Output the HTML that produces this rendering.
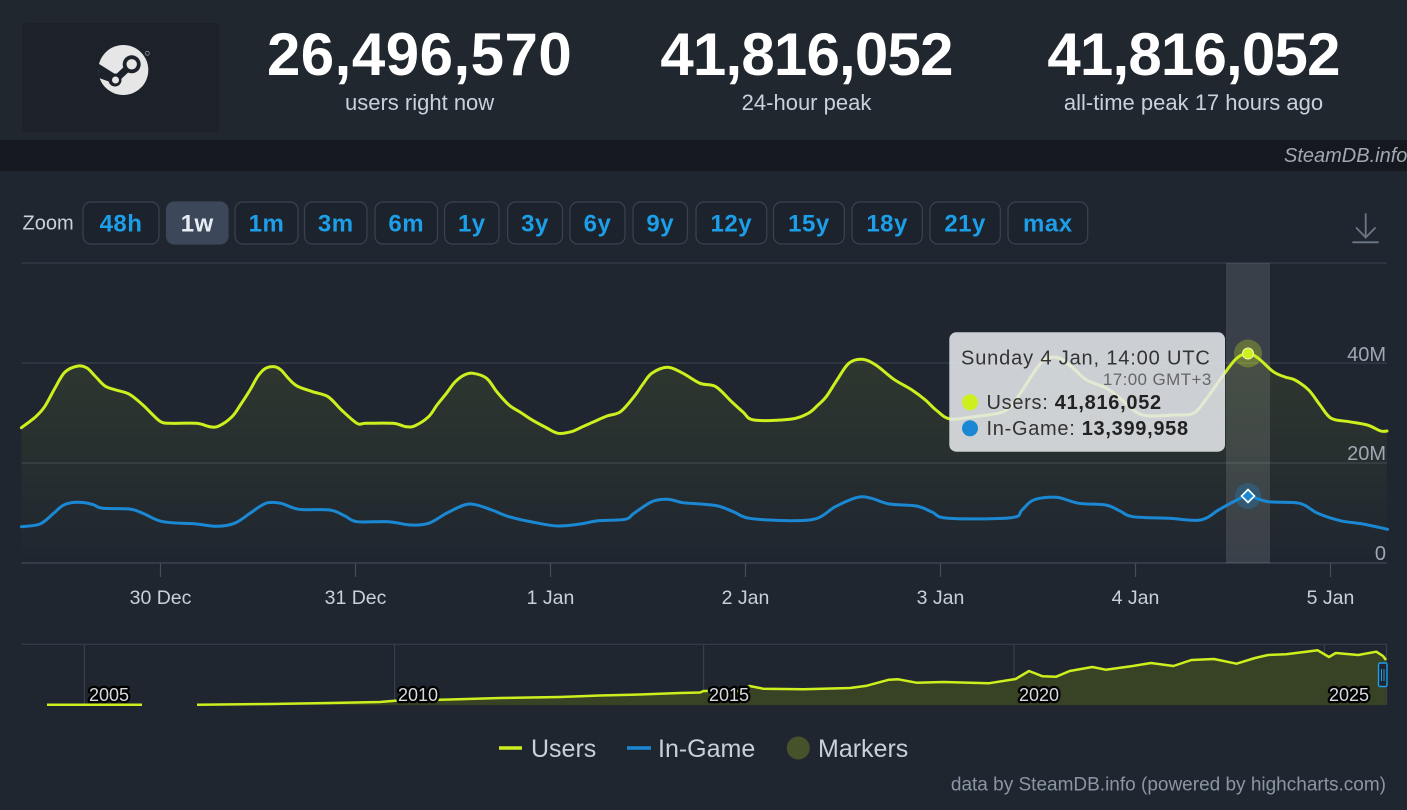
<!DOCTYPE html>
<html><head><meta charset="utf-8">
<style>
html,body{margin:0;padding:0;background:#1f2630;}
body{width:1407px;height:810px;overflow:hidden;}
svg{display:block;font-family:"Liberation Sans",sans-serif;}
</style></head>
<body>
<svg id="chart" width="1407" height="810" viewBox="0 0 1407 810" xmlns="http://www.w3.org/2000/svg">
<defs>
<linearGradient id="ug" x1="0" y1="353" x2="0" y2="563" gradientUnits="userSpaceOnUse">
<stop offset="0" stop-color="#c8ec20" stop-opacity="0.09"/>
<stop offset="1" stop-color="#c8ec20" stop-opacity="0"/>
</linearGradient>
</defs>
<!-- backgrounds -->
<rect x="0" y="0" width="1407" height="810" fill="#1f2630"/>
<rect x="0" y="0" width="1407" height="140" fill="#21272f"/>
<rect x="22" y="23" width="197" height="109" rx="4" fill="#1d2129"/>
<rect x="0" y="140" width="1407" height="31" fill="#15181e"/>
<rect x="0" y="171" width="1407" height="650" rx="8" fill="#1f2630"/>

<!-- steam logo -->
<circle cx="123.3" cy="70" r="25" fill="#e6e6e6"/>
<polygon points="97.5,63 115,74 113,83 99,78" fill="#1d2129"/>
<line x1="131.7" y1="64.3" x2="115" y2="80" stroke="#1d2129" stroke-width="7" stroke-linecap="round"/>
<circle cx="131.7" cy="64.3" r="9" fill="#1d2129"/>
<circle cx="131.7" cy="64.3" r="5.2" fill="#e6e6e6"/>
<circle cx="115" cy="80" r="6.5" fill="#1d2129"/>
<circle cx="115.5" cy="80" r="3.5" fill="#e6e6e6"/>
<circle cx="147.3" cy="53.3" r="2" fill="none" stroke="#8a8f96" stroke-width="0.8"/>

<!-- header stats -->
<g fill="#ffffff" font-weight="bold" font-size="60" text-anchor="middle">
<text x="419.6" y="75" letter-spacing="0.5">26,496,570</text>
<text x="806.5" y="75" letter-spacing="-0.8">41,816,052</text>
<text x="1193.5" y="75" letter-spacing="-0.8">41,816,052</text>
</g>
<g fill="#c9d1da" font-size="22" text-anchor="middle">
<text x="419.6" y="110">users right now</text>
<text x="806.5" y="110">24-hour peak</text>
<text x="1193.5" y="110">all-time peak 17 hours ago</text>
</g>
<text x="1284" y="162" fill="#a0a8b1" font-size="20" font-style="italic">SteamDB.info</text>

<!-- zoom buttons -->
<text x="22.5" y="229.5" fill="#c9d1da" font-size="20">Zoom</text>
<g stroke="#3a4350" stroke-width="1.2" fill="#1d232c">
<rect x="83" y="202" width="76" height="42" rx="8"/>
<rect x="166.5" y="202" width="61.5" height="42" rx="8" fill="#3c4759" stroke="#3c4759"/>
<rect x="235" y="202" width="63" height="42" rx="8"/>
<rect x="304.5" y="202" width="62.5" height="42" rx="8"/>
<rect x="375" y="202" width="62.5" height="42" rx="8"/>
<rect x="444.6" y="202" width="54.4" height="42" rx="8"/>
<rect x="507.6" y="202" width="54.9" height="42" rx="8"/>
<rect x="570" y="202" width="55" height="42" rx="8"/>
<rect x="633" y="202" width="54.5" height="42" rx="8"/>
<rect x="696" y="202" width="70.7" height="42" rx="8"/>
<rect x="773.5" y="202" width="70.8" height="42" rx="8"/>
<rect x="852" y="202" width="70.3" height="42" rx="8"/>
<rect x="930" y="202" width="70.3" height="42" rx="8"/>
<rect x="1008" y="202" width="79.7" height="42" rx="8"/>
</g>
<g fill="#1c9ee8" font-size="24" font-weight="bold" text-anchor="middle" letter-spacing="0.5">
<text x="121" y="231.5">48h</text>
<text x="197.2" y="231.5" fill="#e8edf2">1w</text>
<text x="266.5" y="231.5">1m</text>
<text x="335.7" y="231.5">3m</text>
<text x="406.2" y="231.5">6m</text>
<text x="471.8" y="231.5">1y</text>
<text x="535" y="231.5">3y</text>
<text x="597.5" y="231.5">6y</text>
<text x="660.2" y="231.5">9y</text>
<text x="731.3" y="231.5">12y</text>
<text x="808.9" y="231.5">15y</text>
<text x="887.1" y="231.5">18y</text>
<text x="965.1" y="231.5">21y</text>
<text x="1047.8" y="231.5">max</text>
</g>
<!-- download icon -->
<g stroke="#6d7886" stroke-width="1.8" fill="none" stroke-linecap="round">
<line x1="1365.7" y1="214" x2="1365.7" y2="237"/>
<polyline points="1356.5,228 1365.7,237.5 1375,228"/>
<line x1="1353" y1="242.3" x2="1378" y2="242.3"/>
</g>

<!-- grid -->
<g stroke="#363f4b" stroke-width="1.2">
<line x1="21.5" y1="263" x2="1387" y2="263"/>
<line x1="21.5" y1="363" x2="1387" y2="363"/>
<line x1="21.5" y1="463" x2="1387" y2="463"/>
<line x1="21.5" y1="563" x2="1387" y2="563" stroke="#414a57"/>
</g>
<g stroke="#444d59" stroke-width="1.2">
<line x1="160.5" y1="563" x2="160.5" y2="577"/>
<line x1="355.5" y1="563" x2="355.5" y2="577"/>
<line x1="550.5" y1="563" x2="550.5" y2="577"/>
<line x1="745.5" y1="563" x2="745.5" y2="577"/>
<line x1="940.5" y1="563" x2="940.5" y2="577"/>
<line x1="1135.5" y1="563" x2="1135.5" y2="577"/>
<line x1="1330.5" y1="563" x2="1330.5" y2="577"/>
</g>
<g fill="#c8d0d9" font-size="19.5" text-anchor="middle">
<text x="160.5" y="604">30 Dec</text>
<text x="355.5" y="604">31 Dec</text>
<text x="550.5" y="604">1 Jan</text>
<text x="745.5" y="604">2 Jan</text>
<text x="940.5" y="604">3 Jan</text>
<text x="1135.5" y="604">4 Jan</text>
<text x="1330.5" y="604">5 Jan</text>
</g>

<!-- highlight band -->
<rect x="1226" y="263" width="44" height="300" fill="#ffffff" fill-opacity="0.12"/>

<!-- users area -->
<path fill="url(#ug)" d="M21.4,427.7 L35.7,416.7 L44.6,406.7 L55,388 L65,372 L78.1,366 L87,368 L95,376 L105,386 L116,390 L129.5,394.3 L142.9,405 L152,414 L160.7,421.7 L169.6,423.3 L196.4,423.3 L209.8,426.7 L218.8,426 L232,416.7 L241,404 L250,390 L258,376 L265.6,368.3 L274.6,366.7 L281,370 L289,379 L297,386 L312.5,391.7 L328,396.7 L341.5,410 L357,423.3 L366,423.3 L393,423.3 L406,426.7 L415,425.7 L428.6,416.7 L437,405 L446.4,393.3 L455,382 L464.3,375 L473.2,373.3 L486.6,378.3 L497,392 L509,405 L520,412 L531,419.3 L545,427 L558,433.3 L571.4,431.7 L582,427 L593.8,421.7 L607,416 L620.5,411.7 L634,396.7 L643,384 L651.8,373.3 L667.4,367.3 L683,373.3 L700,383.3 L715.8,386.7 L731.6,401.7 L743,412 L754,420 L790,419.3 L808.2,413.3 L818,405 L826.2,396.7 L837,380 L848.8,363.3 L862.3,359.3 L875.8,365 L893.9,379.3 L912,390 L925.4,400 L936,410 L950,419 L973.3,416.7 L1003.3,411.7 L1016.7,398.3 L1036.7,368.3 L1046.7,358.3 L1060,358.3 L1073.3,368.3 L1086.7,380 L1106.7,388.3 L1120,398.3 L1133.3,410 L1146.7,415.7 L1173.3,415 L1193.3,413.3 L1206.7,398.3 L1223.3,375 L1236.7,358.3 L1248,353.5 L1258.3,358.3 L1273.3,371.7 L1285,377 L1295,380 L1308.7,390 L1320,405 L1331.2,418.3 L1349.2,421.7 L1367.3,425 L1380.8,431 L1387,431 L1387,563 L21.4,563 Z"/>
<!-- users line -->
<polyline class="smooth" fill="none" stroke="#cdef1e" stroke-width="3" stroke-linejoin="round" stroke-linecap="round" points="21.4,427.7 35.7,416.7 44.6,406.7 55,388 65,372 78.1,366 87,368 95,376 105,386 116,390 129.5,394.3 142.9,405 152,414 160.7,421.7 169.6,423.3 196.4,423.3 209.8,426.7 218.8,426 232,416.7 241,404 250,390 258,376 265.6,368.3 274.6,366.7 281,370 289,379 297,386 312.5,391.7 328,396.7 341.5,410 357,423.3 366,423.3 393,423.3 406,426.7 415,425.7 428.6,416.7 437,405 446.4,393.3 455,382 464.3,375 473.2,373.3 486.6,378.3 497,392 509,405 520,412 531,419.3 545,427 558,433.3 571.4,431.7 582,427 593.8,421.7 607,416 620.5,411.7 634,396.7 643,384 651.8,373.3 667.4,367.3 683,373.3 700,383.3 715.8,386.7 731.6,401.7 743,412 754,420 790,419.3 808.2,413.3 818,405 826.2,396.7 837,380 848.8,363.3 862.3,359.3 875.8,365 893.9,379.3 912,390 925.4,400 936,410 950,419 973.3,416.7 1003.3,411.7 1016.7,398.3 1036.7,368.3 1046.7,358.3 1060,358.3 1073.3,368.3 1086.7,380 1106.7,388.3 1120,398.3 1133.3,410 1146.7,415.7 1173.3,415 1193.3,413.3 1206.7,398.3 1223.3,375 1236.7,358.3 1248,353.5 1258.3,358.3 1273.3,371.7 1285,377 1295,380 1308.7,390 1320,405 1331.2,418.3 1349.2,421.7 1367.3,425 1380.8,431 1387,431"/>
<!-- in-game line -->
<polyline class="smooth" fill="none" stroke="#1b88d4" stroke-width="3" stroke-linejoin="round" stroke-linecap="round" points="21.4,526.7 40,524 53.6,513.3 62,506 71.4,502.7 84.8,502.7 94,505 102.7,508.3 129.5,509 142.9,513.3 163,521.7 196.4,524 216.5,526.3 234.4,523.3 250,513.3 259,507 267.9,502.7 281,503.3 299,509.3 330,510 345,516 357,521.7 388.4,521.7 410.7,525 428.6,523.3 446.4,513.3 464.3,505 475.4,504.7 492,510 509,516.7 535.7,522.7 558,526 580.4,524 598.2,520.7 625,519.3 634,513.3 651.8,501.7 667.4,499.3 683,502.7 700,504 718,506 734,512 749.6,518.3 790.2,520.7 817.2,518.3 835.3,506.7 857.8,497.3 871.3,498.3 889.4,504 916.4,506 932,512 948,518.3 1011,517.7 1022,510 1033.6,500 1056.2,497.3 1078.7,503.3 1105.8,505 1120,511 1132.8,516.7 1168.9,518.3 1200.5,520 1218.5,510 1235,501 1248,496 1268,501.7 1299.6,503.3 1317.7,513.3 1340.2,520.7 1362.8,524 1387.6,529.3"/>

<!-- y labels -->
<g fill="#9ea8b3" font-size="20" text-anchor="end">
<text x="1386" y="361">40M</text>
<text x="1386" y="460">20M</text>
<text x="1386" y="560">0</text>
</g>

<!-- hover markers -->
<circle cx="1248" cy="353.5" r="14" fill="#cdef1e" fill-opacity="0.28"/>
<circle cx="1248" cy="353.5" r="5.5" fill="#cdef1e" stroke="#eef8b0" stroke-width="1"/>
<circle cx="1248" cy="496" r="13" fill="#1b88d4" fill-opacity="0.3"/>
<polygon points="1248,489.5 1254.5,496 1248,502.5 1241.5,496" fill="#1b88d4" stroke="#ffffff" stroke-width="1.6"/>

<!-- tooltip -->
<rect x="949.3" y="332.3" width="275.7" height="119.4" rx="7" fill="#e6e9ed" fill-opacity="0.87"/>
<text x="961" y="364.3" fill="#333333" font-size="20" letter-spacing="0.85">Sunday 4 Jan, 14:00 UTC</text>
<text x="1211.7" y="385" fill="#666666" font-size="17" text-anchor="end" letter-spacing="0.4">17:00 GMT+3</text>
<circle cx="970" cy="402.3" r="8" fill="#cdef1e"/>
<text x="986.5" y="409" fill="#333333" font-size="20" letter-spacing="0.7">Users: <tspan font-weight="bold" fill="#222222">41,816,052</tspan></text>
<circle cx="970" cy="428.3" r="8" fill="#1b88d4"/>
<text x="986.5" y="435" fill="#333333" font-size="20" letter-spacing="0.7">In-Game: <tspan font-weight="bold" fill="#222222">13,399,958</tspan></text>

<!-- navigator -->
<g stroke="#363f4b" stroke-width="1.2">
<line x1="21.5" y1="644.3" x2="1387" y2="644.3"/>
<line x1="84.4" y1="644.3" x2="84.4" y2="705"/>
<line x1="394.6" y1="644.3" x2="394.6" y2="705"/>
<line x1="703.6" y1="644.3" x2="703.6" y2="705"/>
<line x1="1014" y1="644.3" x2="1014" y2="705"/>
<line x1="1324.4" y1="644.3" x2="1324.4" y2="705"/>
<line x1="1386.5" y1="644.3" x2="1386.5" y2="705"/>
</g>
<path fill="#384224" d="M197,704.7 L270,704 L330,703 L380,702 L395,700.7 L450,699.5 L500,698 L560,697 L600,695.5 L640,694.5 L680,693 L700,692.5 L703.6,691 L740,691 L749.6,686 L763,688.7 L803.7,689.3 L850,688 L866.8,685.7 L889,679.7 L898.4,679.3 L916.4,682.7 L943.5,682 L988.5,683.3 L1015.6,679 L1029,671 L1042.6,676.3 L1056.2,676.7 L1069.7,671 L1092.3,667 L1105.8,669.7 L1132.8,666 L1150.9,663 L1173.4,666 L1191.4,660 L1214,659 L1236.5,663.7 L1255,658 L1268,655 L1286,654.3 L1304,652 L1317.7,650.3 L1329,657 L1335.7,653 L1358.2,655 L1376.3,651.7 L1383,656 L1386,660 L1386,705 L197,705 Z"/>
<polyline fill="none" stroke="#cdef1e" stroke-width="2.5" stroke-linejoin="round" points="47,704.7 142,704.7"/>
<polyline fill="none" stroke="#cdef1e" stroke-width="2.5" stroke-linejoin="round" points="197,704.7 270,704 330,703 380,702 395,700.7 450,699.5 500,698 560,697 600,695.5 640,694.5 680,693 700,692.5 703.6,691 740,691 749.6,686 763,688.7 803.7,689.3 850,688 866.8,685.7 889,679.7 898.4,679.3 916.4,682.7 943.5,682 988.5,683.3 1015.6,679 1029,671 1042.6,676.3 1056.2,676.7 1069.7,671 1092.3,667 1105.8,669.7 1132.8,666 1150.9,663 1173.4,666 1191.4,660 1214,659 1236.5,663.7 1255,658 1268,655 1286,654.3 1304,652 1317.7,650.3 1329,657 1335.7,653 1358.2,655 1376.3,651.7 1383,656 1386,660"/>
<g fill="#d6d9dd" font-size="18" stroke="#000000" stroke-width="4.5" paint-order="stroke" stroke-linejoin="round">
<text x="89" y="701">2005</text>
<text x="398" y="701">2010</text>
<text x="709" y="701">2015</text>
<text x="1019" y="701">2020</text>
<text x="1329" y="701">2025</text>
</g>
<!-- navigator handle -->
<rect x="1378.5" y="663" width="8.5" height="23.5" rx="1.5" fill="#1f2630" stroke="#1c9ee8" stroke-width="1.4"/>
<line x1="1381.5" y1="669" x2="1381.5" y2="681" stroke="#1c9ee8" stroke-width="1"/>
<line x1="1384" y1="669" x2="1384" y2="681" stroke="#1c9ee8" stroke-width="1"/>

<!-- legend -->
<line x1="499" y1="748" x2="522" y2="748" stroke="#cdef1e" stroke-width="3.5"/>
<text x="531" y="757" fill="#c8d0d9" font-size="25">Users</text>
<line x1="627" y1="748" x2="651" y2="748" stroke="#1b88d4" stroke-width="3.5"/>
<text x="658" y="757" fill="#c8d0d9" font-size="25">In-Game</text>
<circle cx="798.3" cy="748" r="11.5" fill="#46532a"/>
<text x="818" y="757" fill="#c8d0d9" font-size="25">Markers</text>

<!-- credits -->
<text x="1386" y="790.5" fill="#8a96a3" font-size="19" text-anchor="end">data by SteamDB.info (powered by highcharts.com)</text>
</svg>
<script>
(function(){
  var ns="http://www.w3.org/2000/svg";
  var list=document.querySelectorAll("polyline.smooth");
  for(var k=0;k<list.length;k++){
    var pl=list[k];
    var pts=pl.getAttribute("points").trim().split(/\s+/).map(function(p){return p.split(",").map(Number);});
    var d="M"+pts[0][0]+","+pts[0][1];
    for(var i=0;i<pts.length-1;i++){
      var p0=pts[i-1]||pts[i],p1=pts[i],p2=pts[i+1],p3=pts[i+2]||p2;
      var c1x=p1[0]+(p2[0]-p0[0])/6,c1y=p1[1]+(p2[1]-p0[1])/6;
      var c2x=p2[0]-(p3[0]-p1[0])/6,c2y=p2[1]-(p3[1]-p1[1])/6;
      d+=" C"+c1x.toFixed(2)+","+c1y.toFixed(2)+" "+c2x.toFixed(2)+","+c2y.toFixed(2)+" "+p2[0]+","+p2[1];
    }
    var path=document.createElementNS(ns,"path");
    path.setAttribute("d",d);
    ["fill","stroke","stroke-width","stroke-linejoin","stroke-linecap"].forEach(function(a){path.setAttribute(a,pl.getAttribute(a));});
    pl.parentNode.replaceChild(path,pl);
  }
})();
</script>
</body></html>
